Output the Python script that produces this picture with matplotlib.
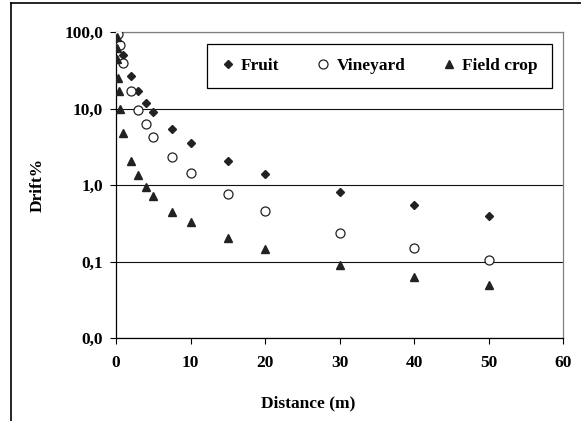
import matplotlib
matplotlib.use("Agg")
import matplotlib.pyplot as plt
from matplotlib.ticker import FixedLocator, FuncFormatter, NullLocator
from matplotlib.lines import Line2D

# drift (% of applied) against distance from the treated area
dist_fruit = [1, 2, 3, 4, 5, 7.5, 10, 15, 20, 30, 40, 50]
drift_fruit = [50, 26.6, 17.1, 11.9, 8.9, 5.35, 3.57, 2.06, 1.39, 0.81, 0.54, 0.39]

dist_vine = [0, 0.25, 0.5, 1, 2, 3, 4, 5, 7.5, 10, 15, 20, 30, 40, 50]
drift_vine = [100, 95, 67.6, 39, 17.1, 9.55, 6.27, 4.28, 2.30, 1.45, 0.755,
              0.46, 0.238, 0.151, 0.105]

dist_field = [0.1, 0.1, 0.15, 0.3, 0.35, 0.5, 1, 2, 3, 4, 5, 7.5, 10, 15,
              20, 30, 40, 50]
drift_field = [87, 62, 44, 25, 17, 9.8, 4.74, 2.08, 1.35, 0.955, 0.72, 0.45,
               0.33, 0.20, 0.144, 0.090, 0.063, 0.049]

y_ticks = [0.01, 0.1, 1, 10, 100]
x_ticks = [0, 10, 20, 30, 40, 50, 60]

plt.rcParams['font.family'] = ['Liberation Serif', 'DejaVu Serif']
plt.rcParams['font.weight'] = 'bold'
fs = 12.5

fig = plt.figure(figsize=(5.81, 4.21), dpi=100)
ax = fig.add_axes([116 / 581, 1 - 338 / 421, 447 / 581, 306 / 421])

ax.plot(dist_fruit, drift_fruit, linestyle='none', marker='D', markersize=3.8,
        color='#222222', label='Fruit', zorder=3)
ax.plot(dist_vine, drift_vine, linestyle='none', marker='o', markersize=6.5,
        markerfacecolor='white', markeredgecolor='#222222', markeredgewidth=0.9,
        label='Vineyard', zorder=4)
ax.plot(dist_field, drift_field, linestyle='none', marker='^', markersize=5.5,
        color='#222222', label='Field crop', zorder=5)

ax.set_yscale('log')
ax.set_ylim(0.01, 100)
ax.set_xlim(0, 60)
ax.yaxis.set_major_locator(FixedLocator(y_ticks))
ax.yaxis.set_minor_locator(NullLocator())
ax.yaxis.set_major_formatter(FuncFormatter(lambda v, p: f"{v:.1f}".replace('.', ',')))
ax.xaxis.set_major_locator(FixedLocator(x_ticks))

ax.tick_params(axis='both', direction='out', length=4.3, width=0.8, color='black',
               labelsize=fs)
ax.tick_params(axis='y', pad=5)
ax.tick_params(axis='x', pad=8)
for lab in ax.get_xticklabels() + ax.get_yticklabels():
    lab.set_fontweight('bold')

ax.set_axisbelow(True)
ax.grid(axis='y', color='#111111', linewidth=0.8)
ax.grid(axis='x', visible=False)
for side in ['top', 'right']:
    ax.spines[side].set_color('#808080')
    ax.spines[side].set_linewidth(0.9)
for side in ['left', 'bottom']:
    ax.spines[side].set_color('black')
    ax.spines[side].set_linewidth(0.9)

ax.set_xlabel('Distance (m)', fontsize=fs, fontweight='bold')
ax.xaxis.set_label_coords((308 - 116) / 447, -(403 - 338) / 306)
ax.xaxis.label.set_va('center')
ax.set_ylabel('Drift%', fontsize=fs, fontweight='bold')
ax.yaxis.set_label_coords(-(116 - 38) / 447, 0.5)
ax.yaxis.label.set_va('center')

leg = ax.legend(loc='center', ncol=3, mode='expand',
                bbox_to_anchor=(207 / 581, 1 - 89 / 421, 345 / 581, 46 / 421),
                bbox_transform=fig.transFigure, fancybox=False, framealpha=1,
                edgecolor='black', handlelength=0.8,
                handletextpad=0.35, columnspacing=1.5, borderpad=0.8,
                borderaxespad=0, prop={'weight': 'bold', 'size': fs})
leg.get_frame().set_linewidth(0.9)

# outer chart frame, cropped at the right and bottom
fig.add_artist(Line2D([11 / 581, 1], [1 - 3 / 421, 1 - 3 / 421],
                      transform=fig.transFigure, color='black', linewidth=1.2))
fig.add_artist(Line2D([11 / 581, 11 / 581], [0, 1 - 3 / 421],
                      transform=fig.transFigure, color='black', linewidth=1.2))

fig.savefig('out.png', dpi=100)
